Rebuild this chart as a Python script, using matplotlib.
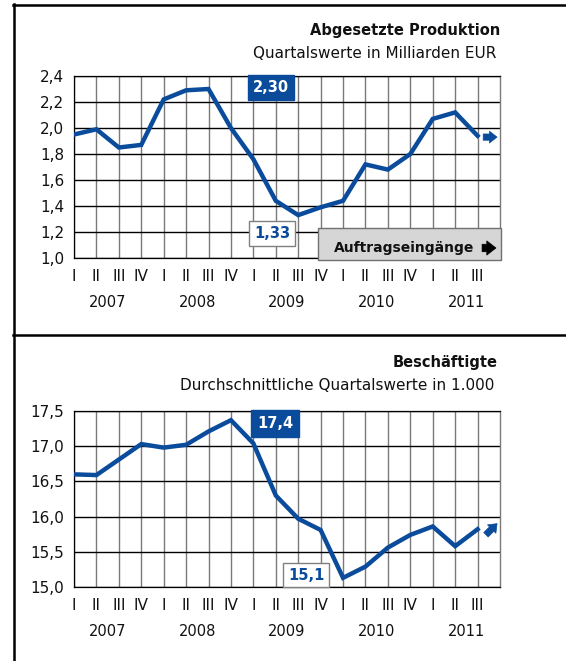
import numpy as np
import matplotlib
matplotlib.use("Agg")
import matplotlib.pyplot as plt
from matplotlib.patches import Rectangle
from matplotlib.lines import Line2D

plt.rcParams['font.family'] = ['DejaVu Sans']

# data
quarters = ['I', 'II', 'III', 'IV'] * 4 + ['I', 'II', 'III']
years = ['2007', '2008', '2009', '2010', '2011']
produktion = [1.95, 1.99, 1.85, 1.87, 2.22, 2.29, 2.30, 2.00, 1.76, 1.44,
              1.33, 1.39, 1.44, 1.72, 1.68, 1.80, 2.07, 2.12, 1.94]
beschaeftigte = [16.60, 16.59, 16.81, 17.03, 16.98, 17.02, 17.21, 17.37, 17.04, 16.30,
                 15.97, 15.81, 15.13, 15.29, 15.56, 15.74, 15.86, 15.58, 15.82]

blue = '#0a4c9b'
W, H = 566, 661
fig = plt.figure(figsize=(W / 100, H / 100), dpi=100)


def px(x0, y0, x1, y1):
    # pixel box -> figure fraction rect
    return [x0 / W, 1 - y1 / H, (x1 - x0) / W, (y1 - y0) / H]


def block_arrow(ax, tip, dx, dy, color, scale=10):
    # thick arrow glyph, tail given as offset in points from the tip
    ax.annotate('', xy=tip, xytext=(dx, dy), textcoords='offset points',
                annotation_clip=False, zorder=6,
                arrowprops=dict(arrowstyle='simple,head_length=0.55,head_width=0.85,tail_width=0.45',
                                fc=color, ec=color, lw=0.5, mutation_scale=scale,
                                shrinkA=0, shrinkB=0))


def setup(ax, ylim, step):
    x = np.arange(len(quarters))
    ax.set_xlim(0, len(quarters))
    ax.set_ylim(*ylim)
    yt = np.arange(ylim[0], ylim[1] + step / 2, step)
    ax.set_yticks(yt, ['{:.1f}'.format(v).replace('.', ',') for v in yt])
    ax.set_xticks(x, quarters)
    ax.tick_params(length=0, labelsize=11, colors='#111111')
    ax.tick_params(axis='y', pad=7)
    ax.tick_params(axis='x', pad=8)
    ax.grid(axis='x', color='#7a7a7a', lw=1.0)
    ax.grid(axis='y', color='black', lw=1.0)
    ax.set_axisbelow(True)
    for s in ['left', 'top', 'bottom']:
        ax.spines[s].set_color('black')
        ax.spines[s].set_linewidth(0.9)
    ax.spines['right'].set_color('#7a7a7a')
    ax.spines['right'].set_linewidth(1.0)
    for i, y in enumerate(years):
        ax.annotate(y, xy=(4 * i + 1.5, 0), xycoords=('data', 'axes fraction'),
                    xytext=(0, -32), textcoords='offset points',
                    ha='center', va='center', fontsize=10.5, color='#111111')
    return x


# top panel
ax1 = fig.add_axes(px(74, 76, 500, 258))
x = setup(ax1, (1.0, 2.4), 0.2)
ax1.plot(x, produktion, color=blue, lw=3.2, solid_joinstyle='miter', zorder=3)
ax1.text(8.79, 2.315, '2,30', color='white', fontsize=10.5, fontweight='bold',
         ha='center', va='center', zorder=5, clip_on=False,
         bbox=dict(boxstyle='square,pad=0.34', fc=blue, ec=blue))
ax1.text(8.83, 1.185, '1,33', color=blue, fontsize=10.5, fontweight='bold',
         ha='center', va='center', zorder=5,
         bbox=dict(boxstyle='square,pad=0.34', fc='white', ec='#808080', lw=1))
block_arrow(ax1, (18.87, 1.93), -10, 0, blue)
ax1.add_patch(Rectangle((10.88, 0.985), 8.15, 0.245, fc='#d6d6d6', ec='#707070',
                        lw=1, clip_on=False, zorder=4))
ax1.text(11.6, 1.08, 'Auftragseingänge', fontsize=10, fontweight='bold',
         ha='left', va='center', color='#111111', zorder=5)
block_arrow(ax1, (18.82, 1.077), -10, 0, 'black', scale=12)

fig.text(500 / W, 1 - 30 / H, 'Abgesetzte Produktion', ha='right', va='center',
         fontsize=10.5, fontweight='bold', color='#111111')
fig.text(496 / W, 1 - 53 / H, 'Quartalswerte in Milliarden EUR', ha='right', va='center',
         fontsize=11, color='#111111')

# bottom panel
ax2 = fig.add_axes(px(74, 411, 500, 587))
x = setup(ax2, (15.0, 17.5), 0.5)
ax2.plot(x, beschaeftigte, color=blue, lw=3.2, solid_joinstyle='miter', zorder=3)
ax2.text(8.98, 17.32, '17,4', color='white', fontsize=10.5, fontweight='bold',
         ha='center', va='center', zorder=5, clip_on=False,
         bbox=dict(boxstyle='square,pad=0.4', fc=blue, ec=blue))
ax2.text(10.35, 15.17, '15,1', color=blue, fontsize=10.5, fontweight='bold',
         ha='center', va='center', zorder=5,
         bbox=dict(boxstyle='square,pad=0.34', fc='white', ec='#808080', lw=1))
block_arrow(ax2, (18.87, 15.9), -8, -8, blue)

fig.text(498 / W, 1 - 362 / H, 'Beschäftigte', ha='right', va='center',
         fontsize=10.5, fontweight='bold', color='#111111')
fig.text(494 / W, 1 - 385 / H, 'Durchschnittliche Quartalswerte in 1.000', ha='right',
         va='center', fontsize=11, color='#111111')

# panel frame
lw = 1.8
fig.add_artist(Line2D([14 / W, 14 / W], [1 - 4 / H, 0], color='black', lw=lw))
fig.add_artist(Line2D([13 / W, 1], [1 - 5 / H, 1 - 5 / H], color='black', lw=lw))
fig.add_artist(Line2D([13 / W, 1], [1 - 335 / H, 1 - 335 / H], color='black', lw=lw))

fig.savefig('out.png', dpi=100)
